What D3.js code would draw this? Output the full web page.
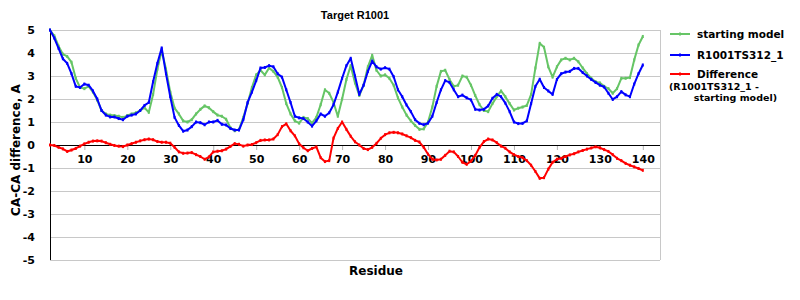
<!DOCTYPE html>
<html>
<head>
<meta charset="utf-8">
<script src="https://cdnjs.cloudflare.com/ajax/libs/d3/7.8.5/d3.min.js"></script>
<style>
  body { margin: 0; background: #fff; }
  svg { display: block; }
</style>
</head>
<body>
<div id="chart"></div>
<script>
// residue numbers (categories)
var residues = d3.range(2, 141);

// starting model CA-CA difference
var startingModel = [
  5.0, 4.75, 4.3, 3.95, 3.85, 3.6, 2.9, 2.5, 2.45, 2.55,
  2.3, 1.95, 1.5, 1.35, 1.3, 1.28, 1.25, 1.2, 1.28, 1.35,
  1.4, 1.5, 1.62, 1.42, 2.2, 3.3, 4.1, 3.3, 2.3, 1.6,
  1.35, 1.05, 1.0, 1.1, 1.35, 1.55, 1.7, 1.62, 1.45, 1.3,
  1.25, 1.12, 0.75, 0.62, 0.68, 1.2, 1.8, 2.5, 3.05, 3.25,
  3.05, 3.35, 3.2, 2.95, 2.5, 1.8, 1.35, 1.05, 0.95, 1.2,
  1.15, 0.95, 1.2, 1.75, 2.4, 2.25, 1.85, 1.25, 2.0, 2.85,
  3.45, 2.7, 2.15, 2.6, 3.4, 3.9, 3.25, 3.0, 3.05, 2.9,
  2.6, 2.05, 1.65, 1.3, 1.05, 0.85, 0.68, 0.7, 1.0, 1.65,
  2.55, 3.2, 3.25, 2.85, 2.55, 2.6, 3.0, 2.95, 2.6, 2.15,
  1.75, 1.5, 1.45, 1.8, 2.1, 2.35, 2.1, 1.8, 1.52, 1.6,
  1.65, 1.72, 2.2, 3.35, 4.42, 4.25, 3.4, 2.95, 3.4, 3.7,
  3.77, 3.7, 3.77, 3.62, 3.35, 3.1, 2.9, 2.75, 2.7, 2.55,
  2.45, 2.25, 2.45, 2.9, 2.9, 2.93, 3.7, 4.35, 4.72
];

// R1001TS312_1 CA-CA difference
var modelTS312 = [
  5.0, 4.65, 4.2, 3.75, 3.55, 3.1, 2.55, 2.5, 2.65, 2.6,
  2.35, 2.0, 1.5, 1.3, 1.22, 1.22, 1.15, 1.1, 1.25, 1.3,
  1.35, 1.5, 1.72, 1.85, 2.75, 3.55, 4.22, 3.1, 2.1, 1.2,
  0.85, 0.6, 0.65, 0.8, 1.0, 0.97, 0.88, 1.0, 1.0, 1.07,
  0.9, 0.87, 0.72, 0.65, 0.65, 1.1, 1.85, 2.3, 2.8, 3.35,
  3.37, 3.45, 3.4, 3.1, 2.95, 2.4, 1.85, 1.25, 1.18, 1.15,
  1.0, 0.82, 1.05, 1.35, 1.25, 1.4, 1.75, 2.3, 2.9, 3.45,
  3.77, 3.0, 2.2, 2.6, 3.2, 3.65, 3.4, 3.3, 3.36, 3.3,
  2.97, 2.4, 2.1, 1.74, 1.45, 1.1, 0.94, 0.88, 0.95, 1.25,
  1.85, 2.4, 2.8, 2.72, 2.4, 2.1, 2.17, 2.05, 1.96, 1.55,
  1.52, 1.55, 1.7, 2.03, 2.2, 2.1, 1.82, 1.45, 1.0, 0.93,
  0.94, 1.05, 1.8, 2.55, 2.86, 2.5, 2.35, 2.2, 2.85, 3.1,
  3.17, 3.2, 3.33, 3.33, 3.15, 3.0, 2.85, 2.72, 2.6, 2.52,
  2.25, 1.98, 2.1, 2.32, 2.18, 2.1, 2.65, 3.1, 3.48
];

// Difference (R1001TS312_1 - starting model)
var difference = [
  0.0, -0.02, -0.1, -0.17, -0.28, -0.22, -0.15, -0.05, 0.05, 0.12,
  0.17, 0.18, 0.17, 0.1, 0.03, -0.02, -0.05, -0.07, 0.0, 0.06,
  0.12, 0.18, 0.23, 0.26, 0.23, 0.15, 0.12, 0.12, 0.08, -0.1,
  -0.3, -0.36, -0.35, -0.33, -0.42, -0.5, -0.62, -0.52, -0.3, -0.27,
  -0.25, -0.18, -0.06, 0.06, 0.03, -0.05, 0.0, 0.02, 0.1, 0.2,
  0.22, 0.22, 0.26, 0.45, 0.8, 0.92, 0.62, 0.4, 0.05, -0.12,
  -0.25, -0.15, -0.08, -0.55, -0.72, -0.68, 0.3, 0.72, 1.0, 0.68,
  0.38, 0.14, 0.0, -0.15, -0.2, -0.1, 0.07, 0.29, 0.45, 0.53,
  0.55, 0.53, 0.48, 0.4, 0.32, 0.2, 0.13, -0.1, -0.4, -0.62,
  -0.65, -0.62, -0.45, -0.27, -0.3, -0.5, -0.75, -0.84, -0.7, -0.45,
  -0.1, 0.15, 0.26, 0.22, 0.1, -0.05, -0.14, -0.3, -0.42, -0.5,
  -0.55, -0.68, -0.88, -1.15, -1.45, -1.42, -1.05, -0.75, -0.62, -0.58,
  -0.5, -0.43, -0.38, -0.3, -0.24, -0.18, -0.13, -0.08, -0.12, -0.2,
  -0.28, -0.42, -0.58, -0.68, -0.8, -0.88, -0.95, -1.02, -1.1
];

var xTicks = [10, 20, 30, 40, 50, 60, 70, 80, 90, 100, 110, 120, 130, 140];
var yTicks = [5, 4, 3, 2, 1, 0, -1, -2, -3, -4, -5];

var seriesNames = ["starting model", "R1001TS312_1", "Difference"];
var seriesColors = ["#66c566", "#0000ff", "#ff0000"];

var svgWidth = 800;
var svgHeight = 300;
var plot = { left: 50, right: 660, top: 30, bottom: 260 };

var svg = d3.select("#chart")
  .append("svg")
  .attr("width", svgWidth)
  .attr("height", svgHeight)
  .style("font-family", "'DejaVu Sans', Verdana, sans-serif")
  .style("font-weight", "bold");

var xScale = d3.scaleLinear()
  .domain([2, 144])
  .range([plot.left, plot.right]);

var yScale = d3.scaleLinear()
  .domain([-5, 5])
  .range([plot.bottom, plot.top]);

// plot area frame + gridlines
svg.append("g")
  .selectAll("line")
  .data(yTicks.filter(d => d !== 0))
  .enter()
  .append("line")
  .attr("x1", plot.left)
  .attr("x2", plot.right)
  .attr("y1", d => yScale(d))
  .attr("y2", d => yScale(d))
  .attr("stroke", "#c8c8c8")
  .attr("stroke-width", 1)
  .attr("shape-rendering", "crispEdges");

svg.append("line")
  .attr("x1", plot.right).attr("x2", plot.right)
  .attr("y1", plot.top).attr("y2", plot.bottom)
  .attr("stroke", "#c8c8c8")
  .attr("shape-rendering", "crispEdges");

// y axis
var leftAxis = d3.axisLeft(yScale)
  .tickValues(yTicks)
  .tickSize(0)
  .tickPadding(15)
  .tickFormat(d => d < 0 ? "-" + Math.abs(d) : String(d));

var yAxisG = svg.append("g")
  .attr("transform", `translate(${plot.left}, 0)`)
  .call(leftAxis);
yAxisG.select(".domain").remove();
yAxisG.selectAll("text")
  .attr("font-size", "11px")
  .attr("font-family", "'DejaVu Sans', Verdana, sans-serif")
  .attr("font-weight", "bold")
  .attr("fill", "#000");

// x axis (crosses at 0)
var bottomAxis = d3.axisBottom(xScale)
  .tickValues(xTicks)
  .tickSize(5)
  .tickPadding(5)
  .tickFormat(d3.format("d"));

var xAxisG = svg.append("g")
  .attr("transform", `translate(0, ${yScale(0)})`)
  .call(bottomAxis);
xAxisG.select(".domain").remove();
xAxisG.selectAll(".tick line")
  .attr("stroke", "#b4b4b4");
xAxisG.selectAll("text")
  .attr("font-size", "11px")
  .attr("font-family", "'DejaVu Sans', Verdana, sans-serif")
  .attr("font-weight", "bold")
  .attr("fill", "#000");

svg.append("line")
  .attr("x1", plot.left).attr("x2", plot.right)
  .attr("y1", yScale(0)).attr("y2", yScale(0))
  .attr("stroke", "#000")
  .attr("shape-rendering", "crispEdges");

svg.append("line")
  .attr("x1", plot.left).attr("x2", plot.left)
  .attr("y1", plot.top).attr("y2", plot.bottom)
  .attr("stroke", "#000")
  .attr("shape-rendering", "crispEdges");

// series lines
var allSeries = [startingModel, modelTS312, difference];

var line = d3.line()
  .x((d, i) => xScale(residues[i]))
  .y(d => yScale(d));

allSeries.forEach(function(values, k) {
  svg.append("path")
    .datum(values)
    .attr("fill", "none")
    .attr("stroke", seriesColors[k])
    .attr("stroke-width", 2)
    .attr("stroke-linejoin", "round")
    .attr("d", line);

  svg.append("g")
    .selectAll("rect")
    .data(values)
    .enter()
    .append("rect")
    .attr("x", (d, i) => xScale(residues[i]) - 1)
    .attr("y", d => yScale(d) - 1.5)
    .attr("width", 2)
    .attr("height", 3)
    .attr("fill", seriesColors[k]);
});

// title
svg.append("text")
  .attr("x", (plot.left + plot.right) / 2)
  .attr("y", 19)
  .attr("text-anchor", "middle")
  .attr("font-family", "'Liberation Sans', Arial, sans-serif")
  .attr("font-size", "11px")
  .text("Target R1001");

// axis titles
svg.append("text")
  .attr("transform", "rotate(-90)")
  .attr("x", -150)
  .attr("y", 20)
  .attr("text-anchor", "middle")
  .attr("font-size", "12px")
  .text("CA-CA difference, A");

svg.append("text")
  .attr("x", 376)
  .attr("y", 275)
  .attr("text-anchor", "middle")
  .attr("font-size", "12px")
  .text("Residue");

// legend
var legendY = [34, 55, 74];
var legend = svg.append("g");

seriesNames.forEach(function(name, k) {
  legend.append("line")
    .attr("x1", 670).attr("x2", 690)
    .attr("y1", legendY[k]).attr("y2", legendY[k])
    .attr("stroke", seriesColors[k])
    .attr("stroke-width", 2);
  legend.append("rect")
    .attr("x", 679).attr("y", legendY[k] - 1.5)
    .attr("width", 2).attr("height", 3)
    .attr("fill", seriesColors[k]);
  legend.append("text")
    .attr("x", 697)
    .attr("y", legendY[k] + 4)
    .attr("font-size", "10.5px")
    .text(name);
});

legend.append("text")
  .attr("x", 669)
  .attr("y", 90)
  .attr("font-size", "9.5px")
  .text("(R1001TS312_1 -");

legend.append("text")
  .attr("x", 777)
  .attr("y", 101)
  .attr("text-anchor", "end")
  .attr("font-size", "9.5px")
  .text("starting model)");
</script>
</body>
</html>
